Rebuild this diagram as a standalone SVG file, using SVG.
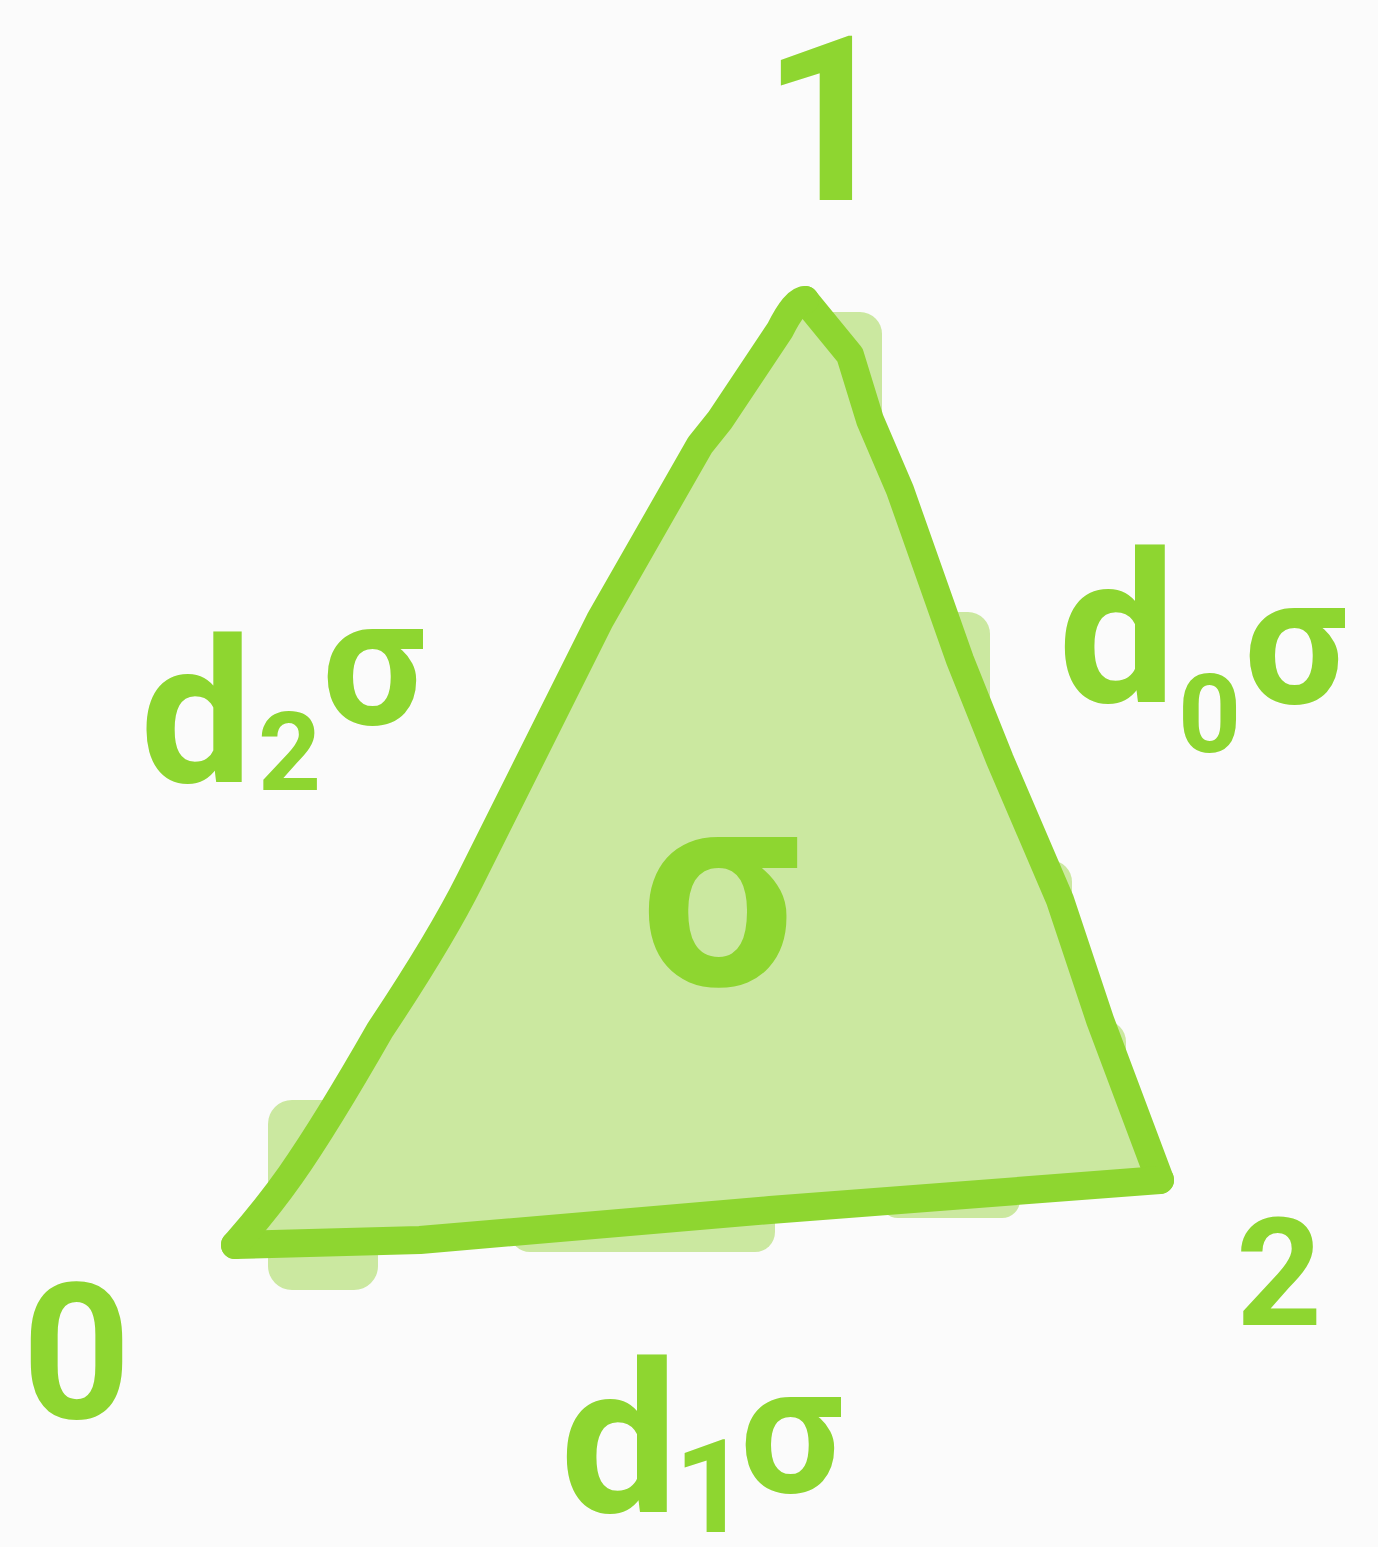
<svg xmlns="http://www.w3.org/2000/svg" width="1378" height="1547" viewBox="0 0 1378 1547">
<style>
.lbl{font-family:Roboto,"Liberation Sans",sans-serif;font-weight:700;fill:#8ed630}
.fillc{fill:#cbe8a0}
.edge{fill:none;stroke:#8ed630;stroke-width:28;stroke-linecap:round;stroke-linejoin:round}
</style>
<rect width="1378" height="1547" fill="#fbfbfb"/>
<g id="face">
<rect class="fillc" x="800" y="312" width="82" height="200" rx="22"/>
<rect class="fillc" x="900" y="612" width="90" height="140" rx="22"/>
<rect class="fillc" x="1000" y="860" width="72" height="140" rx="22"/>
<rect class="fillc" x="1060" y="1020" width="66" height="100" rx="22"/>
<rect class="fillc" x="268" y="1100" width="110" height="190" rx="24"/>
<rect class="fillc" x="510" y="1180" width="265" height="72" rx="20"/>
<rect class="fillc" x="880" y="1170" width="140" height="48" rx="18"/>
<path class="fillc" d="M805,300 L850,355 L900,490 L960,660 L1000,760 L1060,900 L1100,1020 L1160,1180 L770,1210 L420,1240 L235,1245 L300,1165 L380,1030 L470,880 L600,620 L720,420 Z"/>
</g>
<g id="connectors">
<path class="edge" d="M805,300 L850,355 L870,420 L900,490 L960,660 L1000,760 L1060,900 L1100,1020 L1160,1180"/>
<path class="edge" d="M1160,1180 L770,1210 L420,1240 L235,1245"/>
<path class="edge" d="M235,1245 C270,1205 300,1170 380,1030 C420,970 450,920 470,880 L600,620 L700,445 L720,420 L780,330 Q795,300 805,300"/>
</g>
<g id="vertex-1"><text class="lbl" x="762" y="200" font-size="230">1</text></g>
<g id="vertex-0"><text class="lbl" x="22" y="1418" font-size="190">0</text></g>
<g id="vertex-2"><text class="lbl" x="1236" y="1325" font-size="150">2</text></g>
<g id="sigma"><text class="lbl" x="640" y="985" font-size="280">σ</text></g>
<g id="d2"><text class="lbl" font-size="200"><tspan x="140" y="782">d</tspan><tspan x="258" y="790" font-size="110">2</tspan><tspan x="322" y="724" font-size="180">σ</tspan></text></g>
<g id="d0"><text class="lbl" font-size="210"><tspan x="1058" y="702">d</tspan><tspan x="1178" y="752" font-size="110">0</tspan><tspan x="1244" y="703" font-size="180">σ</tspan></text></g>
<g id="d1"><text class="lbl" font-size="210"><tspan x="560" y="1512">d</tspan><tspan x="674" y="1532" font-size="130">1</tspan><tspan x="740" y="1492" font-size="180">σ</tspan></text></g>
</svg>
